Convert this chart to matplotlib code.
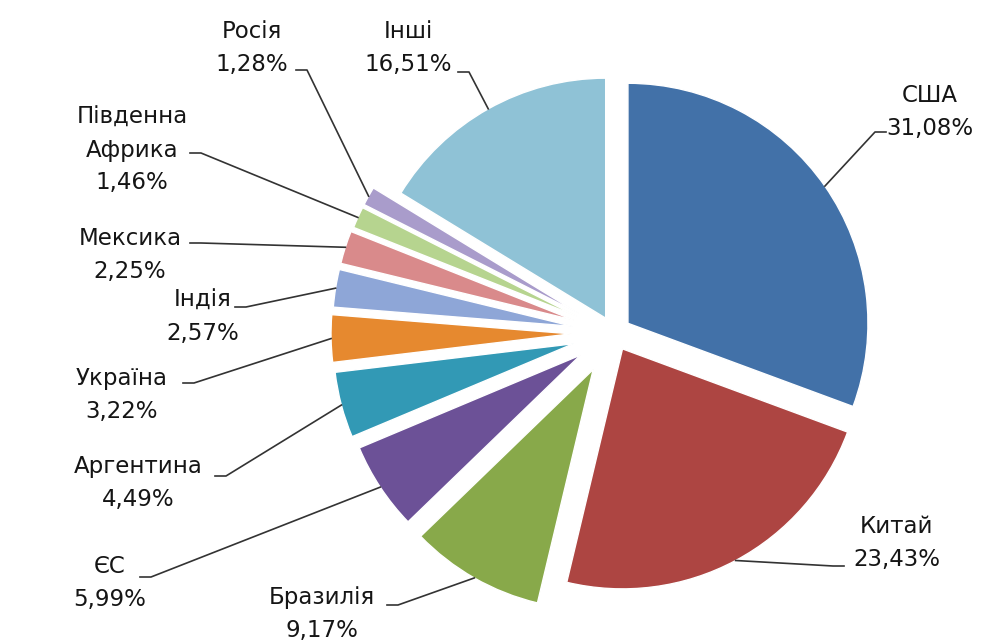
import matplotlib
matplotlib.use("Agg")
import matplotlib.pyplot as plt
import numpy as np

# shares by country, clockwise from the top
countries = ["США", "Китай", "Бразилія", "ЄС", "Аргентина", "Україна",
             "Індія", "Мексика", "Південна\nАфрика", "Росія", "Інші"]
shares = [31.08, 23.43, 9.17, 5.99, 4.49, 3.22, 2.57, 2.25, 1.46, 1.28, 16.51]
colors = ["#4271a8", "#ad4542", "#88a94a", "#6c5197", "#3299b5", "#e6892f",
          "#8ea6d7", "#d98a8b", "#b6d48f", "#a99ccb", "#8fc2d6"]
# offset of each slice from the centre, in pixels
explode = [17, 18, 42, 40, 42, 43, 42, 42, 41, 41, 17]

# label block centre, and where the leader leaves the text (pixels)
label_pos = [(930, 112), (897, 543), (322, 614), (110, 583), (138, 483),
             (122, 395), (203, 317), (130, 255), (132, 150), (252, 48),
             (408, 48)]
leader_start = [(886, 132), (844, 566), (387, 605), (140, 577), (215, 476),
                (183, 383), (235, 307), (190, 243), (190, 153), (296, 70),
                (458, 72)]

W, H = 989, 642
fig = plt.figure(figsize=(W / 100, H / 100), dpi=100)
ax = fig.add_axes([0, 0, 1, 1])

wedges, _ = ax.pie(shares, colors=colors, explode=explode, startangle=-90,
                   counterclock=True, radius=240, center=(614, 333),
                   wedgeprops=dict(edgecolor="white", linewidth=1))
ax.set_xlim(0, W)
ax.set_ylim(H, 0)
ax.set_aspect("equal")
ax.axis("off")

for w, name, val, (tx, ty), (sx, sy) in zip(wedges, countries, shares,
                                           label_pos, leader_start):
    txt = name + "\n" + f"{val:.2f}".replace(".", ",") + "%"
    ax.text(tx, ty, txt, ha="center", va="center", multialignment="center",
            fontsize=16.5, family="DejaVu Sans", color="#151515",
            linespacing=1.55)
    # leader: short horizontal piece, then to the middle of the arc
    mid = np.radians((w.theta1 + w.theta2) / 2)
    ax_x = w.center[0] + w.r * np.cos(mid)
    ax_y = w.center[1] + w.r * np.sin(mid)
    step = 11 if sx < ax_x else -11
    ax.plot([sx, sx + step, ax_x], [sy, sy, ax_y], color="#333333", lw=1.2)

plt.savefig("out.png", dpi=100)
